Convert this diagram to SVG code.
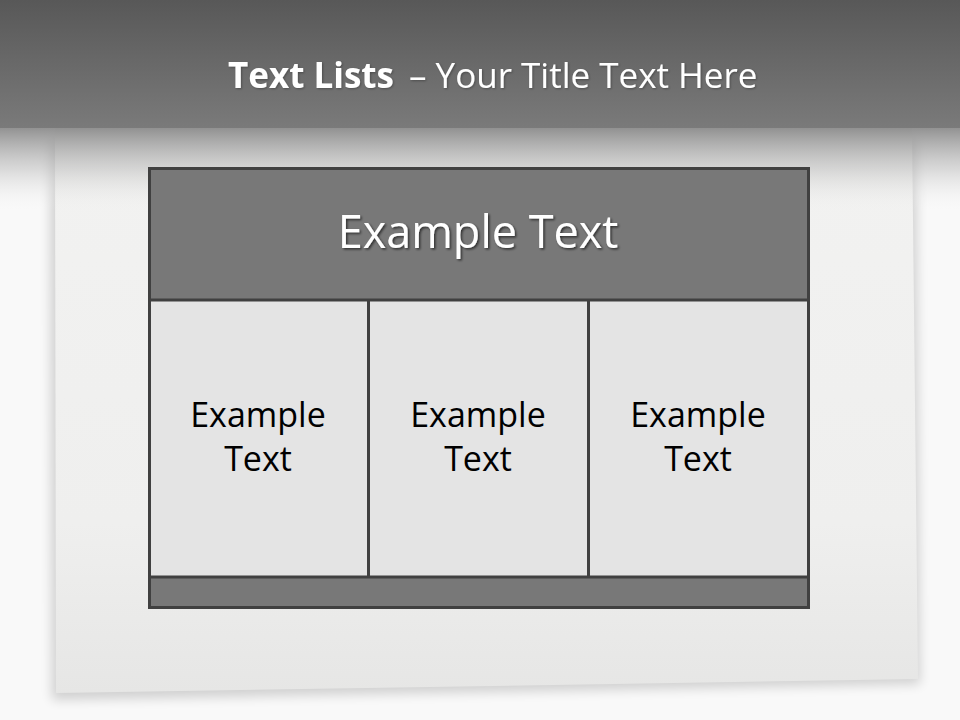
<svg xmlns="http://www.w3.org/2000/svg" width="960" height="720" viewBox="0 0 960 720">
<defs>
<linearGradient id="band" x1="0" y1="0" x2="0" y2="1">
<stop offset="0" stop-color="#585858"/>
<stop offset="1" stop-color="#7a7a7a"/>
</linearGradient>
<linearGradient id="fade" x1="0" y1="0" x2="0" y2="1">
<stop offset="0" stop-color="#808080" stop-opacity="0.85"/>
<stop offset="0.5" stop-color="#b8b8b8" stop-opacity="0.5"/>
<stop offset="1" stop-color="#f0f0f0" stop-opacity="0"/>
</linearGradient>
<linearGradient id="paper" x1="0" y1="0" x2="0" y2="1">
<stop offset="0" stop-color="#f2f2f1"/>
<stop offset="0.7" stop-color="#efefee"/>
<stop offset="1" stop-color="#e6e6e5"/>
</linearGradient>
<filter id="blur" x="-10%" y="-10%" width="120%" height="120%">
<feGaussianBlur stdDeviation="6"/>
</filter>
<filter id="tshadow" x="-10%" y="-20%" width="120%" height="150%">
<feDropShadow dx="1.5" dy="1.5" stdDeviation="1" flood-color="#000" flood-opacity="0.6"/>
</filter>
<filter id="tshadow2" x="-10%" y="-20%" width="120%" height="150%">
<feDropShadow dx="1" dy="1" stdDeviation="0.8" flood-color="#000" flood-opacity="0.3"/>
</filter>
</defs>
<style>
.title{font-family:"Open Sans","Noto Sans",sans-serif;fill:#ffffff;font-size:35px}
.head{font-family:"Open Sans","Noto Sans",sans-serif;fill:#ffffff;font-size:45px}
.cell{font-family:"Open Sans","Noto Sans",sans-serif;fill:#000000;font-size:34px}
.dark{fill:#787878}
.light{fill:#e4e4e4}
.line{stroke:#404040;stroke-width:3;fill:none}
</style>
<rect x="0" y="0" width="960" height="720" fill="#f9f9f9"/>
<g id="paper-sheet">
<polygon points="50,140 916,140 920,684 52,700" fill="#000" opacity="0.16" filter="url(#blur)"/>
<polygon points="55,128 912,128 918,679 56,693" fill="url(#paper)"/>
</g>
<rect x="0" y="128" width="960" height="82" fill="url(#fade)"/>
<g id="title-band">
<rect x="0" y="0" width="960" height="128" fill="url(#band)"/>
<text class="title" x="228" y="88" font-weight="bold" font-size="34" filter="url(#tshadow2)">Text Lists</text>
<text class="title" x="409" y="88" filter="url(#tshadow2)">– Your Title Text Here</text>
</g>
<g id="header">
<rect class="dark" x="149" y="168" width="660" height="132"/>
<text class="head" x="478" y="248" text-anchor="middle" filter="url(#tshadow)">Example Text</text>
</g>
<g id="cell1">
<rect class="light" x="149" y="300" width="219" height="277"/>
<text class="cell" x="258" y="427" text-anchor="middle">Example</text>
<text class="cell" x="258" y="471" text-anchor="middle">Text</text>
</g>
<g id="cell2">
<rect class="light" x="368" y="300" width="220" height="277"/>
<text class="cell" x="478" y="427" text-anchor="middle">Example</text>
<text class="cell" x="478" y="471" text-anchor="middle">Text</text>
</g>
<g id="cell3">
<rect class="light" x="588" y="300" width="221" height="277"/>
<text class="cell" x="698" y="427" text-anchor="middle">Example</text>
<text class="cell" x="698" y="471" text-anchor="middle">Text</text>
</g>
<g id="footer">
<rect class="dark" x="149" y="577" width="660" height="31"/>
</g>
<g id="connectors">
<rect class="line" x="149.5" y="168.5" width="659" height="439"/>
<line class="line" x1="149" y1="300" x2="809" y2="300"/>
<line class="line" x1="149" y1="577" x2="809" y2="577"/>
<line class="line" x1="368.5" y1="300" x2="368.5" y2="577" stroke-width="2.5"/>
<line class="line" x1="588.5" y1="300" x2="588.5" y2="577" stroke-width="2.5"/>
</g>
</svg>
